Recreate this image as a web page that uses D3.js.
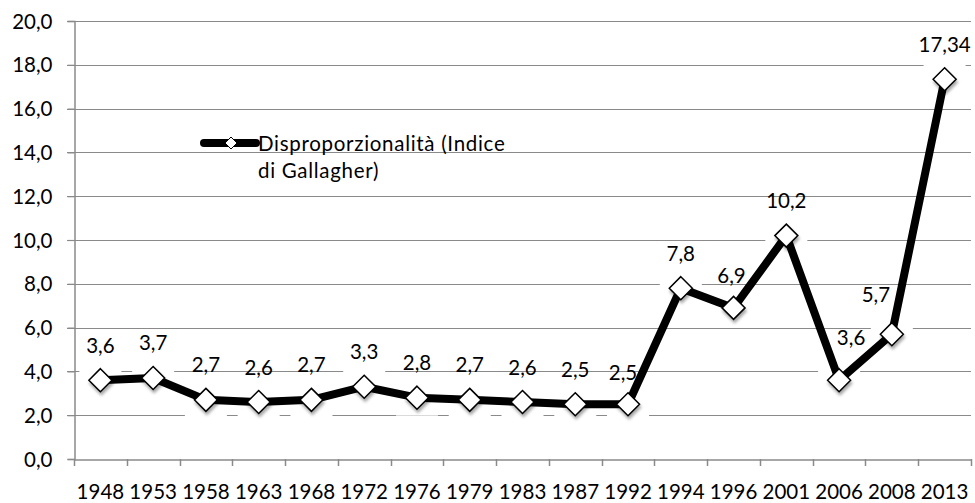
<!DOCTYPE html>
<html>
<head>
<meta charset="utf-8">
<script src="https://cdn.jsdelivr.net/npm/d3@7"></script>
<style>
  html, body { margin: 0; padding: 0; background: #fff; }
  svg { display: block; }
  text { font-family: Lato, "Open Sans", sans-serif; fill: #000; }
</style>
</head>
<body>
<svg id="chart" width="975" height="503"></svg>
<script>
const years = ["1948","1953","1958","1963","1968","1972","1976","1979","1983","1987","1992","1994","1996","2001","2006","2008","2013"];
const values = [3.6, 3.7, 2.7, 2.6, 2.7, 3.3, 2.8, 2.7, 2.6, 2.5, 2.5, 7.8, 6.9, 10.2, 3.6, 5.7, 17.34];
const valueLabels = ["3,6","3,7","2,7","2,6","2,7","3,3","2,8","2,7","2,6","2,5","2,5","7,8","6,9","10,2","3,6","5,7","17,34"];
const yTicks = [0, 2, 4, 6, 8, 10, 12, 14, 16, 18, 20];
const seriesName = ["Disproporzionalità (Indice", "di Gallagher)"];

(function () {
const svg = d3.select("#chart");
const pLeft = 74, pRight = 971, pTop = 21, pBottom = 459;
const fs = 20.5;
const gridColor = "#8a8a8a";
// manual label nudges (label placement as in the original)
const nudge = { "1992": [-5, 3], "1996": [-2, 2.5], "2006": [12, -7.5], "2008": [-16, -4.5] };

const x = d3.scaleBand().domain(years).range([pLeft, pRight]).padding(0);
const y = d3.scaleLinear().domain([0, 20]).range([pBottom, pTop]);
const cx = d => x(d) + x.bandwidth() / 2;

const defs = svg.append("defs");
const f = defs.append("filter").attr("id", "shadow").attr("x", "-50%").attr("y", "-50%").attr("width", "200%").attr("height", "200%");
f.append("feDropShadow").attr("dx", 1).attr("dy", 3).attr("stdDeviation", 1.8).attr("flood-color", "#000").attr("flood-opacity", 0.35);

// gridlines
svg.append("g").selectAll("line").data(yTicks.filter(t => t > 0)).join("line")
  .attr("x1", pLeft - 7).attr("x2", pRight)
  .attr("y1", d => Math.round(y(d)) + 0.5).attr("y2", d => Math.round(y(d)) + 0.5)
  .attr("stroke", gridColor).attr("stroke-width", 1.2);

// y axis
const yAxis = d3.axisLeft(y).tickValues(yTicks).tickSize(7)
  .tickFormat(d => d3.format(".1f")(d).replace(".", ","));
const gy = svg.append("g").attr("transform", `translate(${pLeft + 0.5},0)`).call(yAxis);
gy.select(".domain").attr("stroke", gridColor).attr("stroke-width", 1.5);
gy.selectAll(".tick line").attr("stroke", gridColor).attr("stroke-width", 1.2);
gy.selectAll(".tick text").attr("x", -22).attr("dy", "0.35em").style("font-size", fs + "px").style("font-family", "Lato, 'Open Sans', sans-serif").attr("fill", "#000");

// x axis
const gx = svg.append("g").attr("transform", `translate(0,${Math.round(pBottom) + 0.5})`)
  .call(d3.axisBottom(x).tickSize(0).tickFormat(d => d));
gx.select(".domain").attr("stroke", gridColor).attr("stroke-width", 1.5);
gx.selectAll(".tick text").attr("y", 0).attr("dy", 0).attr("transform", "translate(0,39)")
  .style("font-size", fs + "px").style("font-family", "Lato, 'Open Sans', sans-serif").attr("fill", "#000");
// category boundary ticks
const bounds = years.map(d => x(d)).concat([pRight]);
svg.append("g").selectAll("line").data(bounds).join("line")
  .attr("x1", d => Math.round(d) + 0.5).attr("x2", d => Math.round(d) + 0.5)
  .attr("y1", pBottom).attr("y2", pBottom + 7)
  .attr("stroke", gridColor).attr("stroke-width", 1.5);

const pts = years.map((yr, i) => ({ yr, v: values[i], lab: valueLabels[i] }));

// white halo boxes behind markers
svg.append("g").selectAll("rect").data(pts).join("rect")
  .attr("x", d => cx(d.yr) - 21).attr("y", d => y(d.v) - 16)
  .attr("width", 42).attr("height", 34).attr("fill", "#fff");

// line
svg.append("path").datum(pts)
  .attr("d", d3.line().x(d => cx(d.yr)).y(d => y(d.v)))
  .attr("fill", "none").attr("stroke", "#000").attr("stroke-width", 8)
  .attr("stroke-linejoin", "round");

// markers
const diamond = (s) => `M0,${-s}L${s},0L0,${s}L${-s},0Z`;
svg.append("g").selectAll("path").data(pts).join("path")
  .attr("transform", d => `translate(${cx(d.yr)},${y(d.v)})`)
  .attr("d", diamond(11.5))
  .attr("fill", "#fff").attr("stroke", "#000").attr("stroke-width", 1.5)
  .attr("filter", "url(#shadow)");

// data labels
svg.append("g").selectAll("text").data(pts).join("text")
  .attr("x", d => cx(d.yr) + (nudge[d.yr] ? nudge[d.yr][0] : 0))
  .attr("y", d => y(d.v) - 27.5 + (nudge[d.yr] ? nudge[d.yr][1] : 0))
  .attr("text-anchor", "middle").style("font-size", fs + "px")
  .text(d => d.lab);

// legend
const lg = svg.append("g");
lg.append("line").attr("x1", 204).attr("x2", 256).attr("y1", 143).attr("y2", 143)
  .attr("stroke", "#000").attr("stroke-width", 8).attr("stroke-linecap", "round");
lg.append("path").attr("transform", "translate(231,143)").attr("d", diamond(6))
  .attr("fill", "#fff").attr("stroke", "#000").attr("stroke-width", 1);
lg.selectAll("text").data(seriesName).join("text")
  .attr("x", 258).attr("y", (d, i) => 151 + i * 26.5)
  .style("font-size", fs + "px").style("letter-spacing", "0.7px").text(d => d);
})();
</script>
</body>
</html>
